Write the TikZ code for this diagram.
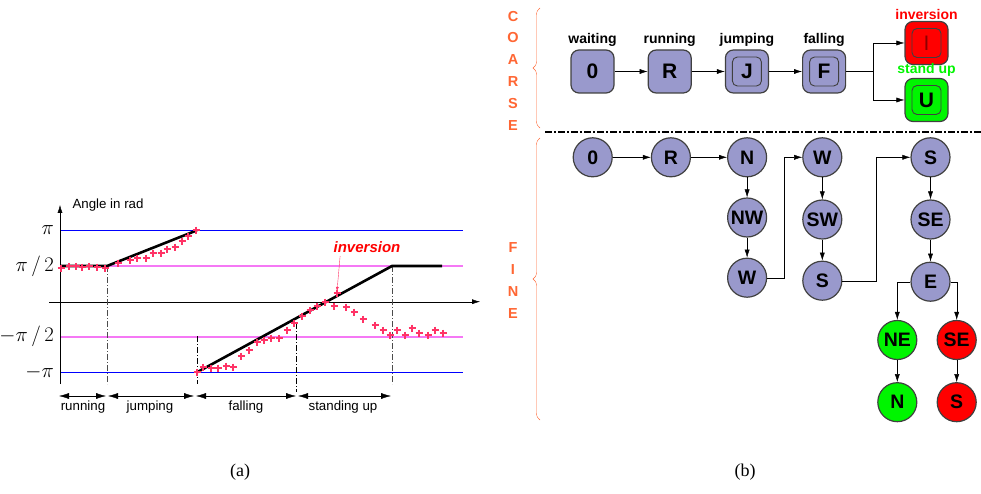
\documentclass[tikz,border=0pt]{standalone}
\usepackage{fontspec}
\setmainfont{Liberation Sans}
\newfontfamily\capfont{Liberation Serif}
\usepackage{tikz}
\usetikzlibrary{positioning, decorations.pathreplacing}
\usetikzlibrary{arrows.meta}
\tikzset{>={Latex[width=5pt,length=8pt]}}
\definecolor{lavender}{RGB}{153,153,204}
\definecolor{tagorange}{RGB}{255,102,51}
\definecolor{ptred}{RGB}{255,51,102}
\definecolor{refpink}{RGB}{245,120,245}
\definecolor{goodgreen}{RGB}{0,245,0}

\begin{document}
\begin{tikzpicture}[x=1pt, y=-1pt,
    cstate/.style={rectangle, rounded corners=8pt, draw=black!75, fill=lavender, line width=1.2pt, minimum size=43pt, inner sep=0pt, font=\fontsize{21}{21}\selectfont\bfseries},
    cinner/.style={path picture={\draw[rounded corners=5pt, line width=0.9pt] ([xshift=-14.5pt,yshift=-14.5pt]path picture bounding box.center) rectangle ([xshift=14.5pt,yshift=14.5pt]path picture bounding box.center);}},
    fstate/.style={circle, draw=black!75, fill=lavender, line width=1.2pt, minimum size=39pt, inner sep=0pt, font=\fontsize{19.5}{19.5}\selectfont\bfseries},
    tag/.style={inner sep=1pt, font=\fontsize{14}{14}\selectfont\bfseries},
    sidetag/.style={align=center, text=tagorange, font=\fontsize{14.5}{21.8}\selectfont\bfseries},
    sidebrace/.style={draw=tagorange, thin, decorate, decoration={brace, mirror, amplitude=7pt}},
    plotlab/.style={font=\fontsize{13.3}{13.3}\selectfont},
    ticklab/.style={anchor=east, inner sep=1pt, font=\fontsize{21}{21}\selectfont},
    ptmark/.style={ptred, line width=2.2pt},
    phase/.style={<->, >={Latex[width=6pt,length=10pt]}, thin},
    guide/.style={black!70, thin, dash pattern=on 6pt off 2pt on 1pt off 2pt}]

    \useasboundingbox (0,0) rectangle (981,494);

    %Plot
    \draw[blue, line width=1.2pt] (60,230.3) -- (463,230.3);
    \draw[blue, line width=1.2pt] (60,372.3) -- (463,372.3);
    \draw[refpink, line width=1.6pt] (60,266) -- (463,266);
    \draw[refpink, line width=1.6pt] (60,336.7) -- (463,336.7);
    \draw[->, thin] (49,301.7) -- (480,301.7);
    \draw[->, thin] (60,384) -- (60,205);
    \node[plotlab, anchor=west](angle) at (69,205){Angle in rad};
    \node[ticklab](lpi) at (55,230.3){$\pi$};
    \node[ticklab](lhalf) at (55,266){$\pi\,/\,2$};
    \node[ticklab](lmhalf) at (55,336.7){$-\pi\,/\,2$};
    \node[ticklab](lmpi) at (55,372.3){$-\pi$};

    \draw[guide] (107,266) -- (107,384);
    \draw[guide, black] (197,336) -- (197,384);
    \draw[guide, black] (296,323) -- (296,392);
    \draw[guide] (392,266) -- (392,384);

    \draw[line width=2.6pt] (60,266) -- (107,266) -- (197,230.3);
    \draw[line width=2.6pt] (197,372.3) -- (392,266) -- (442,266);

    \foreach \x/\y in {61/268, 69/266, 76/266, 82/267, 89/266, 97/267, 105/268,
        118/263, 130/260, 137/258, 146/258, 153/253, 161/253, 167/249, 175/247, 182/241, 188/236, 196/230,
        197/372, 203/367, 211/368, 218/368, 226/366, 233/367, 241/356, 249/350, 257/342, 264/340, 271/338, 279/338, 287/330, 294/323,
        302/316, 310/310, 317/306, 325/302, 337/293, 334/306, 346/307, 354/312, 363/319, 375/325, 383/330, 390/335,
        397/330, 405/335, 412/328, 419/333, 428/335, 435/330, 443/333}
        \draw[ptmark] (\x,\y) +(-3.5,0) -- +(3.5,0) +(0,-3.5) -- +(0,3.5);

    \node[text=red, font=\fontsize{15}{15}\selectfont\bfseries\itshape](inv) at (367,247){inversion};
    \coordinate (invpt) at (337,291);
    \draw[->, >={Latex[width=3pt,length=4pt]}, ptred, thin] ([xshift=10pt]inv.south west) -- (invpt);

    \coordinate (t0) at (59,396);
    \coordinate (t1) at (107,396);
    \coordinate (t2) at (195,396);
    \coordinate (t3) at (297,396);
    \coordinate (t4) at (391,396);
    \draw[phase] (t0) -- ([xshift=-1pt]t1);
    \draw[phase] ([xshift=1pt]t1) -- ([xshift=-1pt]t2);
    \draw[phase] ([xshift=1pt]t2) -- ([xshift=-1pt]t3);
    \draw[phase] ([xshift=1pt]t3) -- (t4);
    \node[plotlab](prun) at (83,407){running};
    \node[plotlab](pjump) at (150,407){jumping};
    \node[plotlab](pfall) at (246,407){falling};
    \node[plotlab](pstand) at (343,407){standing up};

    %Coarse nodes
    \node[cstate](c0) at (592.5,71.5){0};
    \node[cstate](cR)[right=33pt of c0]{R};
    \node[cstate, cinner](cJ)[right=33pt of cR]{J};
    \node[cstate, cinner](cF)[right=33pt of cJ]{F};
    \node[cstate, cinner, fill=red, text=red!55!black](cI) at (926.5,43){\mdseries I};
    \node[cstate, cinner, fill=goodgreen](cU) at (926.5,100){U};
    \node[tag](lwait)[above=2pt of c0]{waiting};
    \node[tag](lrun)[above=2pt of cR]{running};
    \node[tag](ljump)[above=2pt of cJ]{jumping};
    \node[tag](lfall)[above=2pt of cF]{falling};
    \node[tag, text=red](linv)[above=0pt of cI]{inversion};
    \node[tag, text=goodgreen](lstand)[above=0pt of cU]{stand up};
    \coordinate (split) at (873,71.5);

    %Fine nodes
    \node[fstate](f0) at (592.7,157.3){0};
    \node[fstate](fR)[right=38pt of f0]{R};
    \node[fstate](fN)[right=36pt of fR]{N};
    \node[fstate](fNW)[below=20pt of fN]{NW};
    \node[fstate](fW)[below=20pt of fNW]{W};
    \node[fstate](gW)[right=35pt of fN]{W};
    \node[fstate](gSW)[below=22pt of gW]{SW};
    \node[fstate](gS)[below=21pt of gSW]{S};
    \node[fstate](hS)[right=68pt of gW]{S};
    \node[fstate](hSE)[below=22pt of hS]{SE};
    \node[fstate](hE)[below=22pt of hSE]{E};
    \node[fstate, fill=goodgreen](kNE) at (897.3,340){NE};
    \node[fstate, fill=red](kSE) at (956.7,340){SE};
    \node[fstate, fill=goodgreen](kN)[below=22pt of kNE]{N};
    \node[fstate, fill=red](kS)[below=22pt of kSE]{S};

    %Side tags
    \node[sidetag](coarse) at (513,70.5){C\\O\\A\\R\\S\\E};
    \node[sidetag](fine) at (513,280.5){F\\I\\N\\E};
    \draw[sidebrace] (540,8) -- (540,128);
    \draw[sidebrace] (540,138) -- (540,420);
    \draw[line width=2pt, dash pattern=on 7pt off 2pt on 2pt off 2pt] (545,132.5) -- (981,132.5);

    %Lines
    \draw[->] (c0.east) -- (cR.west);
    \draw[->] (cR.east) -- (cJ.west);
    \draw[->] (cJ.east) -- (cF.west);
    \draw (cF.east) -- (split);
    \draw[->] (split) |- (cI.west);
    \draw[->] (split) |- (cU.west);
    \draw[->] (f0.east) -- (fR.west);
    \draw[->] (fR.east) -- (fN.west);
    \draw[->] (fN.south) -- (fNW.north);
    \draw[->] (fNW.south) -- (fW.north);
    \draw[->] (fW.east) -- ++(17,0) |- (gW.west);
    \draw[->] (gW.south) -- (gSW.north);
    \draw[->] (gSW.south) -- (gS.north);
    \draw[->] (gS.east) -- ++(34,0) |- (hS.west);
    \draw[->] (hS.south) -- (hSE.north);
    \draw[->] (hSE.south) -- (hE.north);
    \draw[->] (hE.west) -| (kNE.north);
    \draw[->] (hE.east) -| (kSE.north);
    \draw[->] (kNE.south) -- (kN.north);
    \draw[->] (kSE.south) -- (kS.north);

    %Captions
    \node[font=\capfont\fontsize{18}{18}\selectfont](capa) at (240,472){(a)};
    \node[font=\capfont\fontsize{18}{18}\selectfont](capb) at (745,472){(b)};

\end{tikzpicture}
\end{document}
